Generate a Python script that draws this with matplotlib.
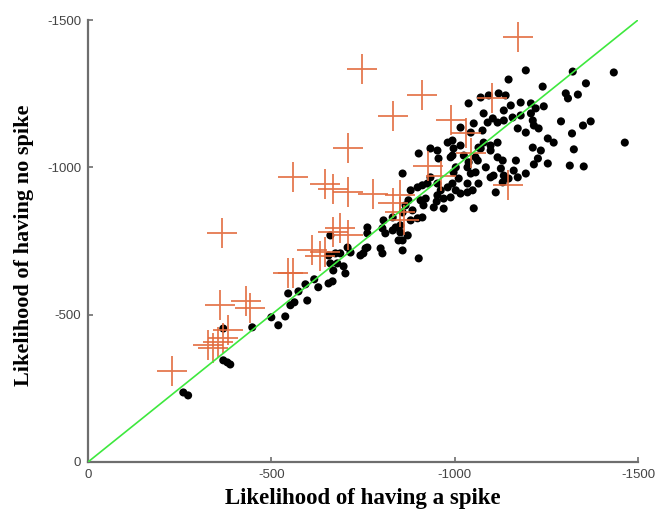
import matplotlib
matplotlib.use("Agg")
import matplotlib.pyplot as plt

# Black dots: (likelihood of having a spike, likelihood of having no spike)
dot_spike = [-260, -273, -369, -369, -380, -388, -448, -500, -519, -538, -546, -552, -563, -574,
             -593, -598, -628, -617, -656, -667, -661, -656, -661, -675, -680, -697, -702, -688,
             -708, -743, -757, -762, -669, -716, -762, -762, -798, -803, -751, -858, -902, -858,
             -872, -847, -852, -831, -811, -839, -803, -806, -831, -852, -880, -899, -858, -885,
             -866, -874, -907, -915, -921, -880, -899, -912, -926, -858, -902, -934, -953, -981,
             -956, -994, -1016, -934, -953, -962, -970, -951, -981, -994, -1003, -1016, -1011,
             -997, -1035, -1049, -1057, -1052, -1035, -1038, -1194, -1147, -1240, -1038, -1071,
             -1093, -1120, -1139, -1153, -1134, -1180, -1208, -1221, -1079, -1104, -1090, -1117,
             -1134, -1158, -1180, -1172, -1194, -1216, -1229, -1254, -1052, -1044, -1076, -1016,
             -1117, -1098, -1079, -1065, -1098, -1117, -1131, -1126, -1167, -1161, -1194, -1213,
             -1235, -1227, -1254, -1147, -1131, -1112, -1098, -1085, -1063, -1044, -1065, -1035,
             -989, -953, -943, -912, -994, -997, -1025, -989, -1003, -1057, -1071, -1106, -1134,
             -1322, -1434, -1358, -1303, -1309, -1336, -1243, -1208, -1213, -1290, -1371, -1350,
             -1320, -1270, -1464, -1325, -1216, -1314, -1352, -970, -1172]
dot_nospike = [-236, -226, -453, -345, -338, -331, -457, -491, -464, -494, -572, -532, -542, -579,
               -603, -548, -593, -620, -606, -613, -674, -701, -769, -708, -674, -664, -640, -708,
               -728, -701, -725, -776, -650, -711, -796, -728, -725, -708, -708, -718, -691, -752,
               -769, -752, -779, -786, -776, -796, -793, -820, -830, -803, -820, -827, -847, -854,
               -871, -888, -888, -871, -894, -922, -932, -939, -945, -979, -1047, -1064, -1057, -1084,
               -1030, -1040, -1074, -966, -945, -922, -894, -884, -932, -945, -922, -911, -962,
               -983, -945, -922, -983, -861, -1000, -1017, -1329, -1298, -1274, -1217, -1237,
               -1244, -1251, -1244, -1210, -1193, -1220, -1217, -1200, -1183, -1166, -1152, -1152,
               -1159, -1169, -1176, -1132, -1118, -1142, -1132, -1098, -1149, -1118, -1125, -1135,
               -1084, -1074, -1084, -1067, -1057, -1034, -1023, -996, -1023, -989, -979, -1067,
               -1057, -1030, -1013, -962, -949, -915, -966, -1000, -1023, -979, -945, -915,
               -898, -905, -864, -830, -1091, -1064, -1040, -1034, -1000, -1034, -1064, -972, -972,
               -1325, -1322, -1285, -1251, -1234, -1247, -1207, -1183, -1159, -1156, -1156, -1142,
               -1115, -1084, -1084, -1061, -1010, -1006, -1003, -860, -966]

# Orange crosses
cross_spike = [-1172, -746, -910, -831, -1101, -989, -1030, -708, -926, -964, -1044, -1145,
               -560, -647, -669, -708, -776, -852, -831, -852, -861, -366, -688, -710, -647,
               -612, -634, -546, -560, -361, -432, -443, -382, -328, -355, -369, -229, -669, -342]
cross_nospike = [-1444, -1335, -1247, -1173, -1234, -1162, -1118, -1064, -1006, -972, -1047, -939,
                 -966, -942, -928, -915, -911, -905, -878, -847, -820, -776, -793, -769, -711,
                 -718, -698, -643, -640, -532, -548, -521, -447, -396, -406, -420, -308, -779, -386]

ticks = [0, -500, -1000, -1500]
tick_labels = ['0', '-500', '-1000', '-1500']
diag = [0, -1500]

fig = plt.figure(figsize=(6.58, 5.16), dpi=100)
ax = fig.add_axes([88/658, 1 - 462/516, 550/658, 442/516])

ax.scatter(dot_spike, dot_nospike, s=34, color='black', edgecolors='none', zorder=2)
ax.plot(cross_spike, cross_nospike, linestyle='none', marker='+', markersize=21,
        markeredgewidth=1.3, color='#E2693C', alpha=0.9, zorder=3)
ax.plot(diag, diag, color='#3EE83E', linewidth=1.2, zorder=4)

ax.set_xlim(0, -1500)
ax.set_ylim(0, -1500)
ax.set_xticks(ticks)
ax.set_xticklabels(tick_labels)
ax.set_yticks(ticks)
ax.set_yticklabels(tick_labels)

for side in ['top', 'right']:
    ax.spines[side].set_visible(False)
for side in ['left', 'bottom']:
    ax.spines[side].set_color('#6E6E6E')
    ax.spines[side].set_linewidth(1.6)

ax.tick_params(direction='in', length=3.5, width=1.2, color='#6E6E6E',
               labelsize=9.5, labelcolor='#444444', pad=5)
for lab in ax.get_xticklabels() + ax.get_yticklabels():
    lab.set_family('Liberation Sans')

ax.set_xlabel('Likelihood of having a spike', family='Liberation Serif',
              fontweight='bold', fontsize=16.5)
ax.set_ylabel('Likelihood of having no spike', family='Liberation Serif',
              fontweight='bold', fontsize=16)
ax.xaxis.set_label_coords(0.5, -0.058)
ax.yaxis.set_label_coords(-0.098, 0.49)

fig.savefig('out.png', dpi=100)
